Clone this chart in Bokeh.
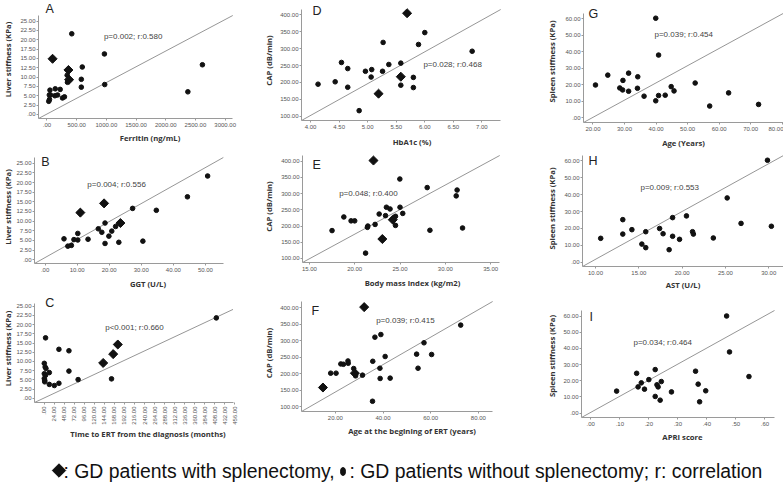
import math
from bokeh.plotting import figure
from bokeh.models import Range1d, FixedTicker, Label
from bokeh.layouts import column, row
from bokeh.embed import file_html
from bokeh.resources import INLINE

# ---------------- data ----------------
# A: Ferritin vs liver stiffness
A_ferritin = [417, 967, 594, 578, 578, 972, 2372, 2617, 50, 39, 60, 42, 30, 139, 133, 178, 222, 261, 294, 340, 345]
A_liver = [21.6, 16.2, 12.7, 9.4, 7.3, 8.0, 6.05, 13.3, 6.5, 5.2, 5.2, 4.0, 3.5, 6.85, 5.0, 5.2, 6.7, 4.4, 4.7, 10.5, 8.6]
A_ferritin_spl = [94, 361, 372]
A_liver_spl = [14.9, 11.9, 9.3]

# B: GGT vs liver stiffness
B_ggt = [50.7, 44.4, 34.7, 27.3, 30.5, 23.0, 18.7, 19.9, 20.8, 22.0, 18.7, 16.6, 17.7, 13.4, 10.2, 10.2, 9.0, 5.9, 7.1, 8.2]
B_liver = [21.7, 16.3, 12.8, 13.3, 4.8, 4.5, 4.2, 6.1, 7.4, 8.6, 9.5, 8.0, 7.1, 5.3, 5.1, 6.8, 5.2, 5.4, 3.5, 3.7]
B_ggt_spl = [11.0, 18.4, 23.5]
B_liver_spl = [12.2, 14.6, 9.5]

# C: time to ERT vs liver stiffness
C_time = [412, 3, 35, 59, 59, 81, 35, 24, 12, 12, 161, 0, 2, 4, 0, 3, 0, 1, 1]
C_liver = [21.8, 16.4, 13.3, 12.9, 7.4, 5.1, 4.1, 3.5, 3.8, 7.0, 5.3, 9.5, 8.5, 8.1, 6.7, 6.3, 5.4, 4.5, 4.9]
C_time_spl = [141, 165, 176]
C_liver_spl = [9.6, 12.0, 14.6]

# D: HbA1c vs CAP
D_hba1c = [6.00, 5.89, 5.27, 6.83, 4.54, 4.65, 4.96, 5.07, 5.37, 5.58, 5.26, 5.06, 4.13, 4.43, 4.65, 5.58, 5.80, 5.80, 4.85]
D_cap = [347, 312, 318, 292, 259, 241, 233, 238, 253, 257, 233, 216, 195, 202, 186, 192, 215, 185, 117]
D_hba1c_spl = [5.69, 5.58, 5.19]
D_cap_spl = [404, 217, 167]

# E: BMI vs CAP
E_bmi = [24.98, 28.0, 31.3, 31.2, 31.9, 28.3, 17.5, 18.8, 19.6, 20.0, 21.45, 21.4, 21.2, 22.25, 22.7, 23.4, 23.5, 23.9, 24.5, 24.5, 25.0, 25.3]
E_cap = [345, 318.6, 311, 293, 194, 187, 186, 228, 216, 216, 200, 196, 116.5, 205, 237, 232, 258, 252.6, 230, 202, 258, 239]
E_bmi_spl = [22.07, 24.2, 23.05]
E_cap_spl = [402, 219.6, 160]

# F: age at ERT start vs CAP
F_age = [72.6, 57.2, 39.1, 36.6, 40.9, 35.7, 38.7, 38.8, 43.0, 35.6, 54.1, 60.4, 54.7, 18.05, 20.3, 22.3, 23.4, 25.3, 25.4, 27.7, 31.4, 28.5]
F_cap = [347.5, 294, 319, 311, 252.5, 238, 217, 186, 187, 117, 259.6, 258.6, 217, 202, 202, 230, 229, 239, 232, 216, 196, 194]
F_age_spl = [32.1, 28.2, 14.8]
F_cap_spl = [402, 202, 158.6]

# G: age vs spleen stiffness
G_age = [39.9, 40.8, 20.8, 24.7, 31.3, 29.5, 34.2, 28.5, 29.4, 31.3, 34.1, 36.2, 39.9, 40.8, 42.9, 44.8, 45.7, 52.4, 57.0, 63.0, 72.5]
G_spleen = [60.4, 38, 19.8, 25.8, 27, 22.6, 24.8, 18, 16.8, 16, 17.8, 13, 10.2, 13.4, 13.6, 18.8, 16.2, 21, 7, 15, 8]

# H: AST vs spleen stiffness
H_ast = [29.85, 25.2, 26.8, 30.3, 20.5, 18.9, 13.15, 14.2, 13.15, 15.8, 17.4, 17.8, 18.9, 19.7, 21.2, 21.3, 23.6, 10.6, 15.35, 15.8, 18.5]
H_spleen = [60.2, 38, 23, 21.3, 27.4, 26.4, 25.2, 19.3, 16.7, 18.1, 20, 16.9, 15.4, 13.6, 18.1, 16.7, 14.4, 14.2, 10.8, 8.7, 7.5]

# I: APRI vs spleen stiffness
I_apri = [0.468, 0.478, 0.545, 0.361, 0.370, 0.396, 0.375, 0.222, 0.158, 0.200, 0.174, 0.163, 0.185, 0.228, 0.232, 0.243, 0.222, 0.239, 0.278, 0.089]
I_spleen = [60, 37.8, 22.6, 25.9, 17.9, 13.8, 7.0, 26.9, 24.6, 20.7, 18.7, 16.2, 14.8, 17.5, 16.2, 19.5, 10.3, 8.0, 13.1, 13.6]

# axis extents (x0, x1, y0, y1)
A_range = (-143, 3128, -1.1, 26.5)
B_range = (-3.3, 55.6, -1.0, 26.5)
C_range = (-23.5, 452, -1.1, 25.7)
D_range = (3.84, 7.33, 88, 415)
E_range = (14.24, 36.0, 87.6, 417.5)
F_range = (5.8, 86, 86, 419)
G_range = (17, 80.4, -3, 63.4)
H_range = (8.5, 31.7, -2.4, 63)
I_range = (-0.032, 0.633, -2.7, 63.4)

# reference lines
A_ref_x, A_ref_y = [-143, 3128], [-1.1, 26.5]
B_ref_x, B_ref_y = [-3.3, 55.6], [-1.0, 26.5]
C_ref_x, C_ref_y = [-23.5, 452], [-1.1, 24.1]
D_ref_x, D_ref_y = [3.84, 7.33], [88, 415]
E_ref_x, E_ref_y = [14.24, 36.0], [87.6, 417.5]
F_ref_x, F_ref_y = [5.8, 86], [86, 419]
G_ref_x, G_ref_y = [17, 80.4], [-3, 63.4]
H_ref_x, H_ref_y = [8.5, 31.7], [-2.4, 63]
I_ref_x, I_ref_y = [-0.032, 0.633], [-2.7, 63.4]

# tick values
liver_ticks = [0, 2.5, 5, 7.5, 10, 12.5, 15, 17.5, 20, 22.5, 25]
cap_ticks = [100, 150, 200, 250, 300, 350, 400]
spleen_ticks = [0, 10, 20, 30, 40, 50, 60]
A_xticks = [0, 500, 1000, 1500, 2000, 2500, 3000]
B_xticks = [0, 10, 20, 30, 40, 50]
C_xticks = [-24, 0, 24, 48, 72, 96, 120, 144, 168, 192, 216, 240, 264, 288, 312, 336, 360, 384, 408, 432, 456]
D_xticks = [4.0, 4.5, 5.0, 5.5, 6.0, 6.5, 7.0]
E_xticks = [15, 20, 25, 30, 35]
F_xticks = [20, 40, 60, 80]
G_xticks = [20, 30, 40, 50, 60, 70, 80]
H_xticks = [10, 15, 20, 25, 30]
I_xticks = [0, 0.1, 0.2, 0.3, 0.4, 0.5, 0.6]

stats = {
    "A": "p=0.002; r:0.580", "B": "p=0.004; r:0.556", "C": "p<0.001; r:0.660",
    "D": "p=0.028; r:0.468", "E": "p=0.048; r:0.400", "F": "p=0.039; r:0.415",
    "G": "p=0.039; r:0.454", "H": "p=0.009; r:0.553", "I": "p=0.034; r:0.464",
}
xlabels = {
    "A": "Ferritin (ng/mL)", "B": "GGT (U/L)", "C": "Time to ERT from the diagnosis (months)",
    "D": "HbA1c (%)", "E": "Body mass index (kg/m2)", "F": "Age at the begining of ERT (years)",
    "G": "Age (Years)", "H": "AST (U/L)", "I": "APRI score",
}
ylab_liver = "Liver stiffness (KPa)"
ylab_cap = "CAP (dB/min)"
ylab_spleen = "Spleen stiffness (KPa)"
legend_spl = ": GD patients with splenectomy,"
legend_nospl = ": GD patients without splenectomy; r: correlation"

# ---------------- layout (pixels) ----------------
COL_X = [0, 261, 522]
COL_W = 261
ROW_Y = [0, 150, 294]
ROW_H = [150, 144, 162]
LEG_H = 487 - 456


def fmt(v):
    s = f"{v:.2f}"
    if s.startswith("0."):
        s = s[1:]
    elif s.startswith("-0."):
        s = "-" + s[2:]
    return s


def panel(key, ci, ri, cx, cy, dx, dy, rng, xt, yt, ylabel, ref_x, ref_y,
          ref_frame, letter_px, stat_px, ylab_off, xlab_off, rotate=False):
    # ref_frame: where the axes sit on the page (left, right, top, bottom px)
    fx0, fx1, fyt, fyb = ref_frame
    x0, x1, y0, y1 = rng
    sx = (x1 - x0) / (fx1 - fx0)
    sy = (y1 - y0) / (fyb - fyt)
    left = fx0 - COL_X[ci]
    bottom = ROW_Y[ri] + ROW_H[ri] - fyb
    X1 = x1 + (COL_X[ci] + COL_W - fx1) * sx
    Y1 = y1 + (fyt - ROW_Y[ri]) * sy

    def px2data(px, py):
        return x0 + (px - fx0) * sx, y1 - (py - fyt) * sy

    p = figure(width=COL_W, height=ROW_H[ri], output_backend="svg", toolbar_location=None,
               x_range=Range1d(x0, X1), y_range=Range1d(y0, Y1),
               min_border_left=left, min_border_right=0,
               min_border_top=0, min_border_bottom=bottom)
    if "frame_align" in p.properties():
        p.frame_align = False
    p.grid.visible = False
    p.outline_line_color = None
    p.background_fill_color = "white"
    p.border_fill_color = "white"
    for ax, ticks in ((p.xaxis[0], xt), (p.yaxis[0], yt)):
        ax.ticker = FixedTicker(ticks=ticks)
        ax.major_label_overrides = {t_: fmt(t_) for t_ in ticks}
        ax.axis_line_color = "#9a9a9a"
        ax.axis_line_width = 1
        ax.major_tick_line_color = "#9a9a9a"
        ax.major_tick_out = 2
        ax.major_tick_in = 0
        ax.minor_tick_line_color = None
        ax.major_label_text_font = "Liberation Sans"
        ax.major_label_text_font_size = "6px"
        ax.major_label_text_color = "#555555"
        ax.axis_label_text_font = "Open Sans"
        ax.axis_label_text_font_style = "bold"
        ax.axis_label_text_font_size = "7.7px"
        ax.axis_label_text_color = "#333333"
    xa, ya = p.xaxis[0], p.yaxis[0]
    xa.axis_label = xlabels[key]
    ya.axis_label = ylabel
    xa.major_label_standoff = 2
    xa.axis_label_standoff = xlab_off
    ya.major_label_standoff = 1
    ya.axis_label_standoff = ylab_off
    xa.bounds = (x0, x1)
    ya.bounds = (y0, y1)
    if rotate:
        xa.major_label_orientation = math.pi / 2
    p.line(ref_x, ref_y, line_color="#8a8a8a", line_width=0.9)
    p.scatter(cx, cy, size=4.6, marker="circle", fill_color="#111111", line_color="#111111")
    if dx:
        p.scatter(dx, dy, size=6.4, marker="square", angle=math.pi / 4,
                  fill_color="#111111", line_color="#111111")

    lx, ly = px2data(*letter_px)
    p.add_layout(Label(x=lx, y=ly, text=key, text_font="Liberation Sans", text_font_size="12.5px",
                       text_color="#222222", text_baseline="top", text_align="left"))
    tx, ty = px2data(*stat_px)
    p.add_layout(Label(x=tx, y=ty, text=stats[key], text_font="Liberation Sans", text_font_size="8px",
                       text_color="#444444", text_baseline="middle", text_align="left"))
    return p


pA = panel("A", 0, 0, A_ferritin, A_liver, A_ferritin_spl, A_liver_spl, A_range, A_xticks, liver_ticks,
           ylab_liver, A_ref_x, A_ref_y, (36, 232, 15, 118), (43, 1), (102, 36), 4, 3)
pD = panel("D", 1, 0, D_hba1c, D_cap, D_hba1c_spl, D_cap_spl, D_range, D_xticks, cap_ticks,
           ylab_cap, D_ref_x, D_ref_y, (299, 500, 9, 120), (310, 3), (422, 64), 3, 5)
pG = panel("G", 2, 0, G_age, G_spleen, [], [], G_range, G_xticks, spleen_ticks,
           ylab_spleen, G_ref_x, G_ref_y, (583, 783, 13, 124), (588, 7), (654, 35), 5, 4)

pB = panel("B", 0, 1, B_ggt, B_liver, B_ggt_spl, B_liver_spl, B_range, B_xticks, liver_ticks,
           ylab_liver, B_ref_x, B_ref_y, (29, 222, 157, 263), (36, 154), (83, 184), 0, 4)
pE = panel("E", 1, 1, E_bmi, E_cap, E_bmi_spl, E_cap_spl, E_range, E_xticks, cap_ticks,
           ylab_cap, E_ref_x, E_ref_y, (300, 499, 155, 262), (310, 157), (337, 193), 4, 4)
pH = panel("H", 2, 1, H_ast, H_spleen, [], [], H_range, H_xticks, spleen_ticks,
           ylab_spleen, H_ref_x, H_ref_y, (582, 783, 155, 266), (588, 153), (640, 187), 4, 2)

pC = panel("C", 0, 2, C_time, C_liver, C_time_spl, C_liver_spl, C_range, C_xticks, liver_ticks,
           ylab_liver, C_ref_x, C_ref_y, (30, 232, 303, 402), (41, 295), (102, 327), 0, 1, rotate=True)
pF = panel("F", 1, 2, F_age, F_cap, F_age_spl, F_cap_spl, F_range, F_xticks, cap_ticks,
           ylab_cap, F_ref_x, F_ref_y, (300, 492, 301, 411), (310, 303), (375, 320), 3, 3)
pI = panel("I", 2, 2, I_apri, I_spleen, [], [], I_range, I_xticks, spleen_ticks,
           ylab_spleen, I_ref_x, I_ref_y, (581, 774, 310, 417), (589, 309), (633, 342), 3, 3)

# legend strip
leg = figure(width=783, height=LEG_H, output_backend="svg", toolbar_location=None,
             x_range=Range1d(0, 783), y_range=Range1d(0, LEG_H),
             x_axis_type=None, y_axis_type=None,
             min_border_left=0, min_border_right=0, min_border_top=0, min_border_bottom=0)
if "frame_align" in leg.properties():
    leg.frame_align = False
leg.grid.visible = False
leg.outline_line_color = None
leg.scatter([58.5], [17], marker="square", angle=math.pi / 4, size=9.5,
            fill_color="#111111", line_color="#111111")
leg.ellipse(x=[342.5], y=[16], width=5, height=8, fill_color="#111111", line_color="#111111")
leg.add_layout(Label(x=63, y=17, text=legend_spl, text_font="Liberation Sans", text_font_size="19.4px",
                     text_color="#111111", text_baseline="middle"))
leg.add_layout(Label(x=349, y=17, text=legend_nospl, text_font="Liberation Sans", text_font_size="19.4px",
                     text_color="#111111", text_baseline="middle"))

layout = column(row(pA, pD, pG), row(pB, pE, pH), row(pC, pF, pI), leg)

open("out.html", "w").write(file_html(layout, INLINE))
